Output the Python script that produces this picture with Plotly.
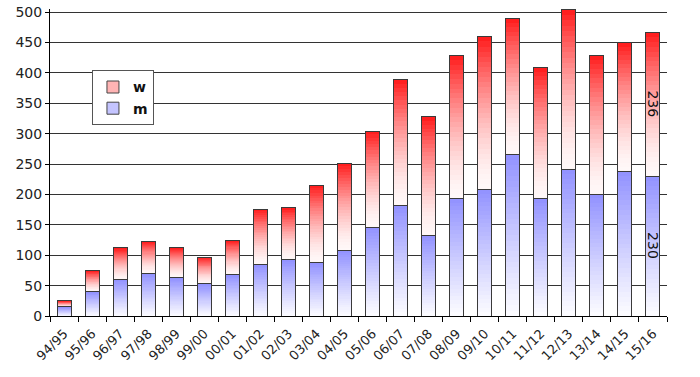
import plotly.graph_objects as go

categories = ["94/95", "95/96", "96/97", "97/98", "98/99", "99/00", "00/01", "01/02",
              "02/03", "03/04", "04/05", "05/06", "06/07", "07/08", "08/09", "09/10",
              "10/11", "11/12", "12/13", "13/14", "14/15", "15/16"]
m_values = [15, 40, 60, 70, 63, 53, 68, 85, 93, 88, 107, 146, 182, 132, 193, 208,
            266, 193, 241, 200, 238, 230]
w_values = [10, 35, 52, 53, 49, 44, 57, 91, 85, 127, 144, 158, 207, 196, 236, 252,
            224, 216, 263, 229, 212, 236]
y_ticks = [0, 50, 100, 150, 200, 250, 300, 350, 400, 450, 500]

FONT = "DejaVu Sans"
N = 30


def mix(lo, hi, f):
    return "rgb(%d,%d,%d)" % tuple(round(a + (b - a) * f) for a, b in zip(lo, hi))


fig = go.Figure()

series = [
    ("m", m_values, (252, 252, 255), (145, 145, 255), 1.1, "#c4c4ff"),
    ("w", w_values, (255, 248, 248), (255, 25, 25), 1.6, "#ffb4b4"),
]

# gradient slices (stacked)
for name, vals, lo, hi, gamma, _ in series:
    for i in range(N):
        t = (i + 0.5) / N
        fig.add_trace(go.Bar(
            x=categories, y=[v / N for v in vals],
            marker=dict(color=mix(lo, hi, t ** gamma), line=dict(width=0)),
            showlegend=False, hoverinfo="skip",
        ))

# legend entries
for rank, (name, vals, lo, hi, gamma, sw) in zip([2, 1], series):
    fig.add_trace(go.Bar(
        x=[categories[0]], y=[0], name=name, legendrank=rank,
        marker=dict(color=sw, line=dict(color="#444", width=1)),
        hoverinfo="skip",
    ))

# outlines on overlay axes
for name, vals, lo, hi, gamma, _ in series:
    fig.add_trace(go.Bar(
        x=categories, y=vals, xaxis="x2", yaxis="y2",
        marker=dict(color="rgba(0,0,0,0)", line=dict(color="#3a3a3a", width=1)),
        showlegend=False, hoverinfo="skip",
    ))

# value labels on the last bar
last = len(categories) - 1
fig.add_annotation(x=categories[last], y=m_values[last] / 2, text=str(m_values[last]),
                   textangle=90, showarrow=False, font=dict(family=FONT, size=14, color="#111"))
fig.add_annotation(x=categories[last], y=m_values[last] + w_values[last] / 2,
                   text=str(w_values[last]), textangle=90, showarrow=False,
                   font=dict(family=FONT, size=14, color="#111"))

yrange = [0, 505]
fig.update_layout(
    width=700, height=377,
    margin=dict(l=50, r=33, t=9, b=61),
    paper_bgcolor="white", plot_bgcolor="white",
    barmode="stack", bargap=0.5,
    font=dict(family=FONT, color="#222"),
    xaxis=dict(type="category", categoryarray=categories, showline=True, linecolor="black",
               linewidth=1, ticks="outside", tickson="boundaries", ticklen=5,
               tickcolor="black", tickangle=-45, tickfont=dict(size=13, color="#222"),
               ticklabelstandoff=4, showgrid=False, automargin=False),
    yaxis=dict(range=yrange, tickvals=y_ticks, showline=True, linecolor="black",
               linewidth=1, ticks="outside", ticklen=4, tickcolor="black",
               tickfont=dict(size=14, color="#222"), showgrid=True, gridcolor="#333",
               gridwidth=1, zeroline=False, automargin=False, ticklabeloverflow="allow"),
    xaxis2=dict(type="category", categoryarray=categories, overlaying="x", matches="x",
                visible=False),
    yaxis2=dict(range=yrange, overlaying="y", visible=False),
    legend=dict(x=0.068, y=0.80, xanchor="left", yanchor="top", bgcolor="white",
                bordercolor="#555", borderwidth=1, traceorder="normal",
                font=dict(family=FONT, size=14, color="#111", weight="bold"),
                itemwidth=30),
    showlegend=True,
)

fig.write_html("out.html", config={"displayModeBar": False},
               post_script="document.body.style.margin='0';")
